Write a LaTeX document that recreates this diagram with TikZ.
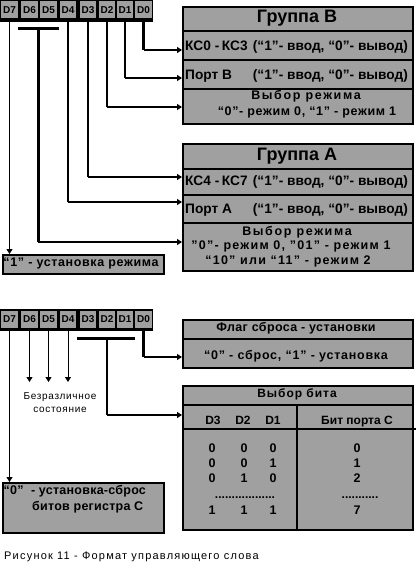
\documentclass[tikz,border=0pt]{standalone}
\usepackage{fontspec}
\setmainfont{Liberation Sans}
\usetikzlibrary{arrows.meta}
\definecolor{cgray}{RGB}{160,160,160}
\newcommand{\lsp}[1]{\addfontfeature{LetterSpace=#1}}
\begin{document}
\begin{tikzpicture}[x=1pt,y=-1pt,
  row/.style={draw,line width=2.4pt,fill=cgray,inner sep=0pt,anchor=north west,minimum width=230pt},
  lbl/.style={inner sep=0pt,font=\bfseries\fontsize{12.5}{14}\selectfont},
  big/.style={inner sep=0pt,font=\bfseries\fontsize{13.7}{15}\selectfont},
  sml/.style={inner sep=0pt,font=\bfseries\fontsize{12}{14}\selectfont},
  ttl/.style={inner sep=0pt,font=\bfseries\fontsize{18}{20}\selectfont},
  reg/.style={inner sep=0pt,font=\fontsize{10}{13}\selectfont},
  cell/.style={fill=cgray,inner sep=0pt,minimum width=16.5pt,minimum height=17pt,font=\bfseries\fontsize{10}{10}\selectfont},
  vthick/.style={line width=2.2pt},
  bar/.style={line width=3pt},
  hconn/.style={line width=1.2pt,-{Triangle[length=5pt,width=6pt]}},
  thinarr/.style={line width=0.8pt,-{Triangle[length=5pt,width=6pt]}},
]
\useasboundingbox (0,0) rectangle (416,578);
% ---------- top register ----------
\fill (0,0) rectangle (153,22);
\foreach \n/\x in {7/9.5,6/29.5,5/48.5,4/68,3/88,2/107,1/125,0/143.5}
  \node[cell] (t\n) at (\x,10) {D\n};
% ---------- Group B ----------
\node[row,minimum height=24pt] (gBt) at (182,6) {};
\node[row,minimum height=29pt] (gB1) at (182,30) {};
\node[row,minimum height=29pt] (gB2) at (182,59) {};
\node[row,minimum height=35pt] (gB3) at (182,88) {};
\node[ttl,anchor=mid] (gBtt) at (297,20) {Группа B};
\node[big,anchor=mid west] (gB1a) at (185,48) {КС0\hspace{4pt}-\hspace{2.5pt}КС3};
\node[big,anchor=mid east] (gB1b) at (408,48) {(“1”- ввод, “0”- вывод)};
\node[big,anchor=mid west] (gB2a) at (185,77) {Порт B};
\node[big,anchor=mid east] (gB2b) at (408,77) {(“1”- ввод, “0”- вывод)};
\node[lbl,anchor=mid] (gB3a) at (306,97) {\lsp{13}Выбор режима};
\node[lbl,anchor=mid] (gB3b) at (307,113) {\lsp{5}“0”- режим 0, “1” - режим 1};
% ---------- Group A ----------
\node[row,minimum height=25pt] (gAt) at (182,143) {};
\node[row,minimum height=26pt] (gA1) at (182,168) {};
\node[row,minimum height=28pt] (gA2) at (182,194) {};
\node[row,minimum height=48pt] (gA3) at (182,222) {};
\node[ttl,anchor=mid] (gAtt) at (297,158) {Группа A};
\node[big,anchor=mid west] (gA1a) at (185,183) {КС4\hspace{4pt}-\hspace{2.5pt}КС7};
\node[big,anchor=mid east] (gA1b) at (408,183) {(“1”- ввод, “0”- вывод)};
\node[big,anchor=mid west] (gA2a) at (185,211) {Порт A};
\node[big,anchor=mid east] (gA2b) at (408,211) {(“1”- ввод, “0”- вывод)};
\node[lbl,anchor=mid] (gA3a) at (297,233) {\lsp{13}Выбор режима};
\node[lbl,anchor=mid] (gA3b) at (291,247) {\lsp{10}"0"- режим 0, "01" - режим 1};
\node[lbl,anchor=mid] (gA3c) at (288,262) {\lsp{10}“10” или “11” - режим 2};
% ---------- mode set box ----------
\node[draw,line width=2.4pt,fill=cgray,anchor=north west,minimum width=161.5pt,minimum height=19pt,inner sep=0pt] (set1) at (1.5,254) {};
\node[lbl,anchor=mid] (set1t) at (81,264) {\lsp{5}“1” - установка режима};
% ---------- top connectors ----------
\draw[thinarr] (t7.south) -- (t7.south |- set1.north);
\coordinate (b65) at (38,29);
\draw[bar] (18,29) -- (59,29);
\coordinate (c65) at (38,242);
\draw[line width=3pt] (b65) -- (c65);
\draw[hconn] (c65) -- (gA3.west |- c65);
\coordinate (c4) at (68,202);
\draw[vthick] (t4.south) -- (c4);
\draw[hconn] (c4) -- (gA2.west |- c4);
\coordinate (c3) at (88,177);
\draw[vthick] (t3.south) -- (c3);
\draw[hconn] (c3) -- (gA1.west |- c3);
\coordinate (c2) at (107,107);
\draw[vthick] (t2.south) -- (c2);
\draw[hconn] (c2) -- (gB3.west |- c2);
\coordinate (c1) at (125,78);
\draw[vthick] (t1.south) -- (c1);
\draw[hconn] (c1) -- (gB2.west |- c1);
\coordinate (c0) at (143.5,50);
\draw[vthick] (t0.south) -- (c0);
\draw[hconn] (c0) -- (gB1.west |- c0);
% ---------- bottom register ----------
\fill (0,309) rectangle (153,331);
\foreach \n/\x in {7/9.5,6/29.5,5/48.5,4/68,3/88,2/107,1/125,0/143.5}
  \node[cell] (b\n) at (\x,319) {D\n};
% ---------- flag box ----------
\node[row,minimum height=19pt] (flT) at (182,319) {};
\node[row,minimum height=29pt] (fl1) at (182,338) {};
\node[lbl,anchor=mid] (flTt) at (296,329) {\lsp{3}Флаг сброса - установки};
\node[lbl,anchor=mid] (fl1t) at (296,357) {\lsp{6}“0” - сброс, “1” - установка};
% ---------- bit select box ----------
\node[row,minimum height=19pt] (biT) at (182,385) {};
\node[row,minimum height=125pt] (bi1) at (182,404) {};
\draw[line width=2.4pt] (bi1.west |- 0,429) -- (416,429);
\draw[line width=2.4pt] (297,404) -- (297,529);
\node[sml,anchor=mid] (biTt) at (297,395) {\lsp{8}Выбор\ бита};
\foreach \t/\x in {D3/213,D2/243,D1/273}
  \node[sml,anchor=mid] at (\x,422) {\t};
\node[sml,anchor=mid] (bith) at (357,422) {Бит порта C};
\foreach \y/\a/\b/\c/\d in {450/0/0/0/0,465/0/0/1/1,480/0/1/0/2,512/1/1/1/7}{
  \node[lbl,anchor=mid] at (212,\y) {\a};
  \node[lbl,anchor=mid] at (244,\y) {\b};
  \node[lbl,anchor=mid] at (273,\y) {\c};
  \node[lbl,anchor=mid] at (357,\y) {\d};
}
\node[sml,anchor=mid] (dotsL) at (245,496) {..................};
\node[sml,anchor=mid] (dotsR) at (360,496) {...........};
% ---------- bit reset box ----------
\node[draw,line width=2.4pt,fill=cgray,anchor=north west,minimum width=161.5pt,minimum height=50pt,inner sep=0pt] (set0) at (1.5,482) {};
\node[lbl,anchor=mid west] (set0a) at (3.5,492) {\lsp{2}“0”\ \ - установка-сброс};
\node[lbl,anchor=mid west] (set0b) at (32,508) {\lsp{2}битов регистра C};
% ---------- bottom connectors ----------
\draw[thinarr] (b7.south) -- (b7.south |- set0.north);
\coordinate (e6) at (29.5,382);
\coordinate (e5) at (48.5,382);
\coordinate (e4) at (68,382);
\draw[thinarr] (b6.south) -- (e6);
\draw[thinarr] (b5.south) -- (e5);
\draw[thinarr] (b4.south) -- (e4);
\node[reg,align=center] (dc) at (60,403) {\lsp{7}Безразличное\\\lsp{7}состояние};
\coordinate (b31) at (107,338);
\draw[bar] (77,338) -- (135,338);
\coordinate (c31) at (107,415);
\draw[line width=2.6pt] (b31) -- (c31);
\draw[hconn] (c31) -- (bi1.west |- c31);
\coordinate (d0) at (143.5,357);
\draw[vthick] (b0.south) -- (d0);
\draw[hconn] (d0) -- (fl1.west |- d0);
% ---------- caption ----------
\node[reg,anchor=mid west,font=\fontsize{11}{13}\selectfont] (cap) at (4,557) {\lsp{11}Рисунок 11 - Формат управляющего слова};
\end{tikzpicture}
\end{document}
